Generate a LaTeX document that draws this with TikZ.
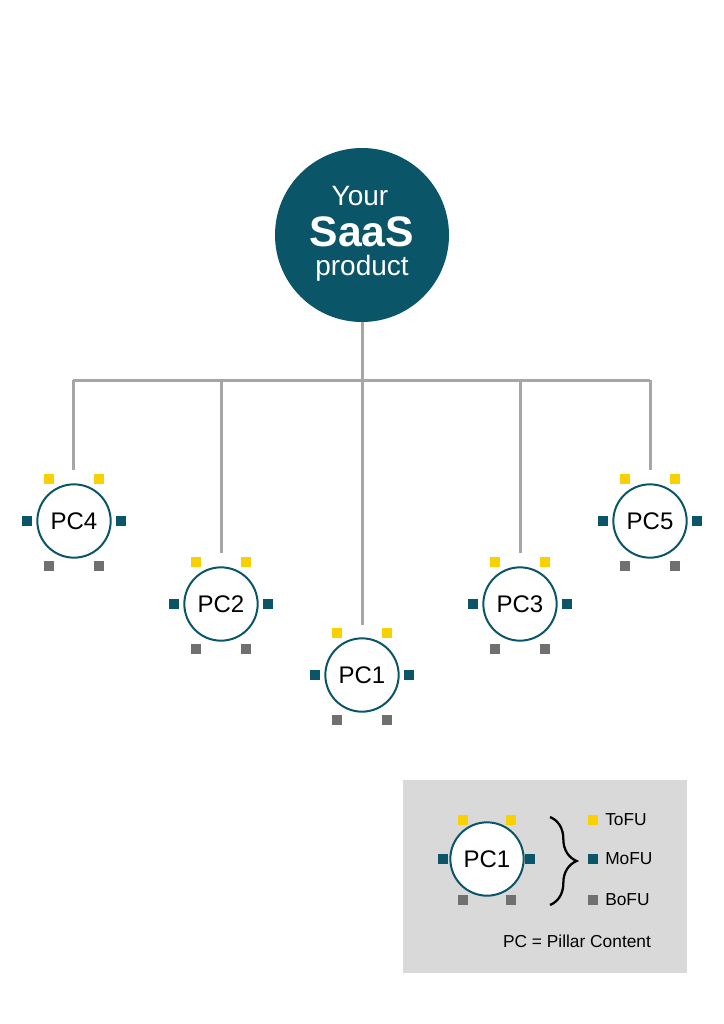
\documentclass[tikz,border=0pt]{standalone}
\usepackage{fontspec}
\setmainfont{Liberation Sans}
\usetikzlibrary{decorations.pathreplacing}
\definecolor{myteal}{HTML}{0B5569}
\definecolor{myyellow}{HTML}{F9D000}
\definecolor{sqgray}{HTML}{707070}
\definecolor{linegray}{HTML}{A6A6A6}
\definecolor{boxgray}{HTML}{D9D9D9}
\begin{document}
\begin{tikzpicture}[x=0.75pt,y=-0.75pt,
  pc/.style={circle, draw=myteal, line width=1.5pt, fill=white, minimum size=55pt, inner sep=0pt, font=\fontsize{18}{20}\selectfont},
  sq/.style={rectangle, minimum size=8pt, inner sep=0pt},
  tofu/.style={sq, fill=myyellow},
  mofu/.style={sq, fill=myteal},
  bofu/.style={sq, fill=sqgray},
  conn/.style={draw=linegray, line width=2.25pt},
  legtext/.style={anchor=west, inner sep=0pt, font=\fontsize{13}{15}\selectfont}]
\useasboundingbox (0,0) rectangle (724,1024);
\fill[white] (0,0) rectangle (724,1024);

% bus
\coordinate (busc) at (362,380);
\coordinate (bus4) at (73,380);
\coordinate (bus2) at (221,380);
\coordinate (bus3) at (520,380);
\coordinate (bus5) at (650,380);
\coordinate (e4) at (73,470);
\coordinate (e2) at (221,553);
\coordinate (e1) at (362,625);
\coordinate (e3) at (520,553);
\coordinate (e5) at (650,470);
\node[circle, fill=myteal, minimum size=130.5pt, inner sep=0pt] (main) at (362,235) {};
\draw[conn] (main.south) -- (busc);
\draw[conn] (bus4) -- (bus5);
\draw[conn] (bus4) -- (e4);
\draw[conn] (bus2) -- (e2);
\draw[conn] (busc) -- (e1);
\draw[conn] (bus3) -- (e3);
\draw[conn] (bus5) -- (e5);

\node[text=white, font=\fontsize{21}{23}\selectfont] (tyour) at (360,196) {Your};
\node[text=white, font=\fontsize{32}{34}\selectfont\bfseries] (tsaas) at (362,232) {SaaS};
\node[text=white, font=\fontsize{21}{23}\selectfont] (tprod) at (362,268) {product};

\foreach \n/\x/\y/\t in {pc4/74/521/PC4, pc2/221/604/PC2, pc1/362/675/PC1, pc3/520/604/PC3, pc5/650/521/PC5}{
  \node[pc] (\n) at (\x,\y) {\t};
  \node[tofu] (\n-t1) at ([shift={(-25,-42)}]\n.center) {};
  \node[tofu] (\n-t2) at ([shift={(25,-42)}]\n.center) {};
  \node[mofu] (\n-m1) at ([shift={(-47,0)}]\n.center) {};
  \node[mofu] (\n-m2) at ([shift={(47,0)}]\n.center) {};
  \node[bofu] (\n-b1) at ([shift={(-25,45)}]\n.center) {};
  \node[bofu] (\n-b2) at ([shift={(25,45)}]\n.center) {};
}

% legend
\fill[boxgray] (403,780) rectangle (687,973);
\node[pc] (leg) at (487,859) {PC1};
\node[tofu] (leg-t1) at ([shift={(-24,-39)}]leg.center) {};
\node[tofu] (leg-t2) at ([shift={(24,-39)}]leg.center) {};
\node[mofu] (leg-m1) at ([shift={(-44,0)}]leg.center) {};
\node[mofu] (leg-m2) at ([shift={(43,0)}]leg.center) {};
\node[bofu] (leg-b1) at ([shift={(-24,41)}]leg.center) {};
\node[bofu] (leg-b2) at ([shift={(24,41)}]leg.center) {};
\coordinate (br1) at (550,817);
\coordinate (br2) at (550,905);
\draw[decorate, decoration={brace, amplitude=20pt}, line width=1.7pt] (br1) -- (br2);
\node[tofu] (k1) at (593,820) {};
\node[mofu] (k2) at (593,859) {};
\node[bofu] (k3) at (593,900) {};
\node[legtext] (l1) at (605,820) {ToFU};
\node[legtext] (l2) at (605,859) {MoFU};
\node[legtext] (l3) at (605,900) {BoFU};
\node[font=\fontsize{13}{15}\selectfont] (pcdef) at (577,941) {PC = Pillar Content};
\end{tikzpicture}
\end{document}
